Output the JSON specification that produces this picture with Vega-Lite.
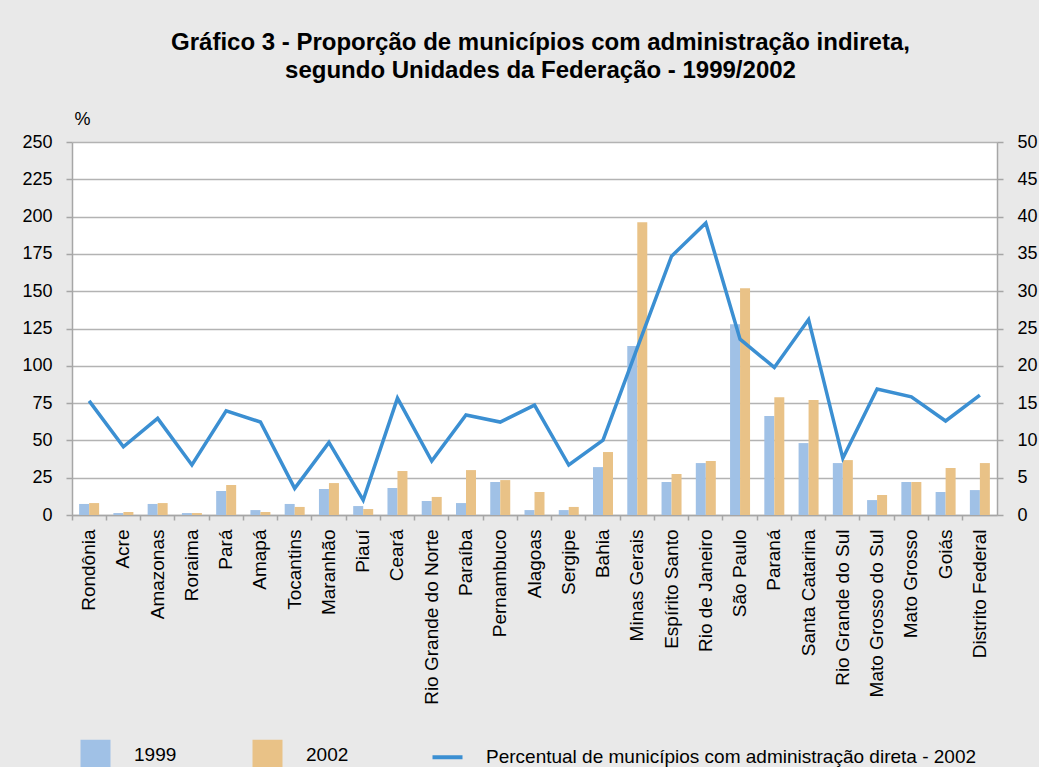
{
  "$schema": "https://vega.github.io/schema/vega-lite/v6.json",
  "autosize": {"type": "none"},
  "width": 925,
  "height": 373,
  "padding": {"left": 72, "top": 142, "right": 42, "bottom": 252},
  "background": "#e9e9e9",
  "title": {
    "text": ["Gráfico 3 - Proporção de municípios com administração indireta,", "segundo Unidades da Federação - 1999/2002"],
    "font": "Liberation Sans",
    "fontSize": 24,
    "fontWeight": "bold",
    "color": "#000000",
    "anchor": "middle",
    "lineHeight": 28,
    "offset": 27,
    "dx": 6
  },
  "config": {
    "view": {"stroke": null, "fill": "white"},
    "font": "Liberation Sans",
    "axis": {"labelFont": "Liberation Sans", "labelColor": "#000000", "labelFontSize": 18}
  },
  "datasets": {
    "barras": [
      {"uf": "Rondônia", "ano": "1999", "valor": 7.4}, {"uf": "Rondônia", "ano": "2002", "valor": 8.0},
      {"uf": "Acre", "ano": "1999", "valor": 1.3}, {"uf": "Acre", "ano": "2002", "valor": 2.0},
      {"uf": "Amazonas", "ano": "1999", "valor": 7.4}, {"uf": "Amazonas", "ano": "2002", "valor": 8.0},
      {"uf": "Roraima", "ano": "1999", "valor": 1.3}, {"uf": "Roraima", "ano": "2002", "valor": 1.3},
      {"uf": "Pará", "ano": "1999", "valor": 16.1}, {"uf": "Pará", "ano": "2002", "valor": 20.1},
      {"uf": "Amapá", "ano": "1999", "valor": 3.3}, {"uf": "Amapá", "ano": "2002", "valor": 2.0},
      {"uf": "Tocantins", "ano": "1999", "valor": 7.4}, {"uf": "Tocantins", "ano": "2002", "valor": 5.4},
      {"uf": "Maranhão", "ano": "1999", "valor": 17.4}, {"uf": "Maranhão", "ano": "2002", "valor": 21.4},
      {"uf": "Piauí", "ano": "1999", "valor": 6.0}, {"uf": "Piauí", "ano": "2002", "valor": 4.0},
      {"uf": "Ceará", "ano": "1999", "valor": 18.1}, {"uf": "Ceará", "ano": "2002", "valor": 29.5},
      {"uf": "Rio Grande do Norte", "ano": "1999", "valor": 9.4}, {"uf": "Rio Grande do Norte", "ano": "2002", "valor": 12.1},
      {"uf": "Paraíba", "ano": "1999", "valor": 8.0}, {"uf": "Paraíba", "ano": "2002", "valor": 30.1},
      {"uf": "Pernambuco", "ano": "1999", "valor": 22.1}, {"uf": "Pernambuco", "ano": "2002", "valor": 23.4},
      {"uf": "Alagoas", "ano": "1999", "valor": 3.3}, {"uf": "Alagoas", "ano": "2002", "valor": 15.4},
      {"uf": "Sergipe", "ano": "1999", "valor": 3.3}, {"uf": "Sergipe", "ano": "2002", "valor": 5.4},
      {"uf": "Bahia", "ano": "1999", "valor": 32.1}, {"uf": "Bahia", "ano": "2002", "valor": 42.2},
      {"uf": "Minas Gerais", "ano": "1999", "valor": 113.2}, {"uf": "Minas Gerais", "ano": "2002", "valor": 196.2},
      {"uf": "Espírito Santo", "ano": "1999", "valor": 22.1}, {"uf": "Espírito Santo", "ano": "2002", "valor": 27.5},
      {"uf": "Rio de Janeiro", "ano": "1999", "valor": 34.8}, {"uf": "Rio de Janeiro", "ano": "2002", "valor": 36.2},
      {"uf": "São Paulo", "ano": "1999", "valor": 127.9}, {"uf": "São Paulo", "ano": "2002", "valor": 152.0},
      {"uf": "Paraná", "ano": "1999", "valor": 66.3}, {"uf": "Paraná", "ano": "2002", "valor": 79.0},
      {"uf": "Santa Catarina", "ano": "1999", "valor": 48.2}, {"uf": "Santa Catarina", "ano": "2002", "valor": 77.0},
      {"uf": "Rio Grande do Sul", "ano": "1999", "valor": 34.8}, {"uf": "Rio Grande do Sul", "ano": "2002", "valor": 36.8},
      {"uf": "Mato Grosso do Sul", "ano": "1999", "valor": 10.0}, {"uf": "Mato Grosso do Sul", "ano": "2002", "valor": 13.4},
      {"uf": "Mato Grosso", "ano": "1999", "valor": 22.1}, {"uf": "Mato Grosso", "ano": "2002", "valor": 22.1},
      {"uf": "Goiás", "ano": "1999", "valor": 15.4}, {"uf": "Goiás", "ano": "2002", "valor": 31.5},
      {"uf": "Distrito Federal", "ano": "1999", "valor": 16.7}, {"uf": "Distrito Federal", "ano": "2002", "valor": 34.8}
    ],
    "linha": [
      {"uf": "Rondônia", "direta": 15.3},
      {"uf": "Acre", "direta": 9.15},
      {"uf": "Amazonas", "direta": 12.95},
      {"uf": "Roraima", "direta": 6.7},
      {"uf": "Pará", "direta": 13.97},
      {"uf": "Amapá", "direta": 12.46},
      {"uf": "Tocantins", "direta": 3.57},
      {"uf": "Maranhão", "direta": 9.73},
      {"uf": "Piauí", "direta": 2.0},
      {"uf": "Ceará", "direta": 15.67},
      {"uf": "Rio Grande do Norte", "direta": 7.23},
      {"uf": "Paraíba", "direta": 13.4},
      {"uf": "Pernambuco", "direta": 12.46},
      {"uf": "Alagoas", "direta": 14.73},
      {"uf": "Sergipe", "direta": 6.7},
      {"uf": "Bahia", "direta": 10.04},
      {"uf": "Minas Gerais", "direta": 22.4},
      {"uf": "Espírito Santo", "direta": 34.7},
      {"uf": "Rio de Janeiro", "direta": 39.15},
      {"uf": "São Paulo", "direta": 23.57},
      {"uf": "Paraná", "direta": 19.78},
      {"uf": "Santa Catarina", "direta": 26.2},
      {"uf": "Rio Grande do Sul", "direta": 7.6},
      {"uf": "Mato Grosso do Sul", "direta": 16.9},
      {"uf": "Mato Grosso", "direta": 15.85},
      {"uf": "Goiás", "direta": 12.6},
      {"uf": "Distrito Federal", "direta": 16.07}
    ]
  },
  "layer": [
    {
      "data": {"name": "barras"},
      "mark": {"type": "bar"},
      "encoding": {
        "x": {
          "field": "uf", "type": "nominal", "sort": null,
          "scale": {"paddingInner": 0, "paddingOuter": 0},
          "axis": {
            "title": null, "labelAngle": -90, "labelPadding": 9, "labelFontSize": 19,
            "bandPosition": 0, "tickSize": 5, "tickColor": "#a6a6a6", "tickWidth": 1.5,
            "domainColor": "#a6a6a6", "domainWidth": 1.5, "labelLimit": 300
          }
        },
        "xOffset": {"field": "ano", "type": "nominal", "scale": {"paddingInner": 0, "paddingOuter": 0.713}},
        "y": {
          "field": "valor", "type": "quantitative",
          "scale": {"domain": [0, 250], "nice": false},
          "axis": {
            "orient": "left", "values": [0, 25, 50, 75, 100, 125, 150, 175, 200, 225, 250],
            "title": "%", "titleAngle": 0, "titleFontSize": 18, "titleFontWeight": "normal",
            "titleFont": "Liberation Sans", "titleColor": "#000000",
            "titleAnchor": "end", "titleAlign": "left", "titleX": 2, "titleY": -14, "titleBaseline": "bottom",
            "grid": true, "gridColor": "#b3b3b3", "gridWidth": 1.5,
            "domainColor": "#a6a6a6", "domainWidth": 1.5,
            "tickColor": "#a6a6a6", "tickSize": 6, "tickWidth": 1.5, "labelPadding": 14
          }
        },
        "color": {
          "field": "ano", "type": "nominal",
          "scale": {
            "domain": ["1999", "2002", "Percentual de municípios com administração direta - 2002"],
            "range": ["#a0c1e6", "#e9c287", "#3b8fd2"]
          },
          "legend": {
            "title": null, "orient": "none", "legendX": 14, "legendY": 603, "direction": "horizontal",
            "padding": 0,
            "symbolSize": 900, "symbolType": "square", "labelFontSize": 19, "labelFont": "Liberation Sans",
            "labelColor": "#000000", "labelLimit": 800, "columnPadding": 75, "labelOffset": 29,
            "symbolStrokeWidth": 0,
            "encode": {
              "symbols": {
                "update": {
                  "shape": {"signal": "datum.value == 'Percentual de municípios com administração direta - 2002' ? 'stroke' : 'square'"},
                  "fill": {"scale": "color", "field": "value"},
                  "stroke": {"scale": "color", "field": "value"},
                  "strokeWidth": {"signal": "datum.value == 'Percentual de municípios com administração direta - 2002' ? 4 : 0"}
                }
              }
            }
          }
        }
      }
    },
    {
      "data": {"name": "linha"},
      "mark": {"type": "line", "strokeWidth": 3.5},
      "encoding": {
        "x": {"field": "uf", "type": "nominal", "sort": null},
        "y": {
          "field": "direta", "type": "quantitative",
          "scale": {"domain": [0, 50], "nice": false},
          "axis": {
            "orient": "right", "values": [0, 5, 10, 15, 20, 25, 30, 35, 40, 45, 50],
            "title": null, "grid": false,
            "domainColor": "#a6a6a6", "domainWidth": 1.5,
            "tickColor": "#a6a6a6", "tickSize": 6, "tickWidth": 1.5, "labelPadding": 14
          }
        },
        "color": {"datum": "Percentual de municípios com administração direta - 2002"}
      }
    }
  ],
  "resolve": {"scale": {"y": "independent"}}
}
